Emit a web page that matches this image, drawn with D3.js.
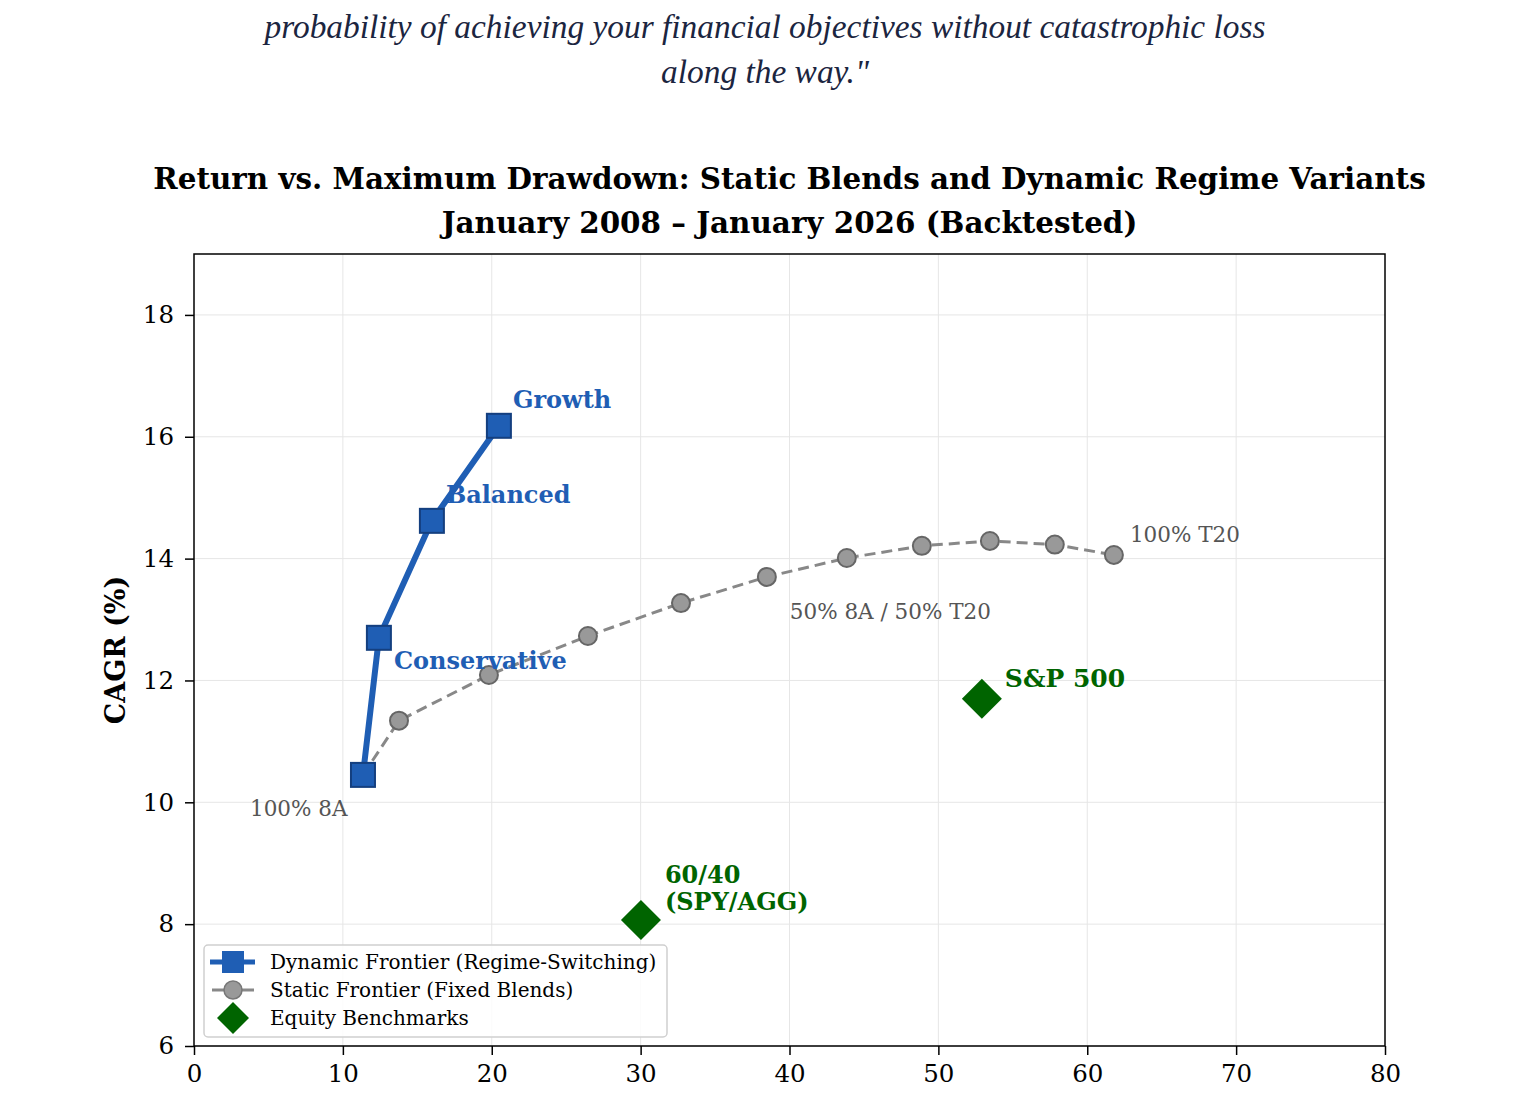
<!DOCTYPE html>
<html>
<head>
<meta charset="utf-8">
<script src="https://cdn.jsdelivr.net/npm/d3@7"></script>
<style>
  body { margin: 0; background: #fff; }
  svg { display: block; }
</style>
</head>
<body>
<svg id="chart" width="1530" height="1100"></svg>
<script>
// quote lines above the chart (first one is cut by the top edge)
const quoteLines = [
  '"The goal of portfolio design is not simply maximizing the',
  'probability of achieving your financial objectives without catastrophic loss',
  'along the way."'
]

// dynamic frontier: max drawdown (%), CAGR (%)
const dynNames = ['', 'Conservative', 'Balanced', 'Growth']
const dynDD = [11.35, 12.42, 15.98, 20.48]
const dynCAGR = [10.45, 12.70, 14.62, 16.18]

// static blends 100% 8A -> 100% T20 in 10% steps
const staticDD = [11.35, 13.77, 19.81, 26.46, 32.71, 38.48, 43.85, 48.89, 53.46, 57.82, 61.79]
const staticCAGR = [10.45, 11.34, 12.09, 12.73, 13.27, 13.70, 14.01, 14.21, 14.29, 14.23, 14.06]

const benchNames = ['S&P 500', '60/40|(SPY/AGG)']
const benchDD = [52.92, 30.02]
const benchCAGR = [11.70, 8.07]

const xTicks = [0, 10, 20, 30, 40, 50, 60, 70, 80]
const yTicks = [6, 8, 10, 12, 14, 16, 18]

const titleLines = [
  'Return vs. Maximum Drawdown: Static Blends and Dynamic Regime Variants',
  'January 2008 \u2013 January 2026 (Backtested)'
]
const legendLabels = ['Dynamic Frontier (Regime-Switching)', 'Static Frontier (Fixed Blends)', 'Equity Benchmarks']

const BLUE = '#1f5eb4', BLUE_EDGE = '#143f7f', GREEN = '#006400'
const SERIF = 'DejaVu Serif, serif'

const svg = d3.select('#chart')
const m = { left: 194, right: 1385, top: 254, bottom: 1046 }

const x = d3.scaleLinear().domain([0, 80]).range([m.left, m.right])
const y = d3.scaleLinear().domain([6, 19]).range([m.bottom, m.top])

// quote
svg.append('g').selectAll('text').data(quoteLines).join('text')
  .attr('x', 765).attr('y', (d, i) => -7 + i * 45)
  .attr('text-anchor', 'middle')
  .style('font-family', 'Liberation Serif, serif')
  .style('font-style', 'italic')
  .style('font-size', '33.4px')
  .attr('fill', '#1b2540')
  .text(d => d)

// title
svg.append('g').selectAll('text').data(titleLines).join('text')
  .attr('x', (m.left + m.right) / 2).attr('y', (d, i) => 189 + i * 44)
  .attr('text-anchor', 'middle')
  .style('font-family', SERIF).style('font-weight', 'bold').style('font-size', '29.4px')
  .text(d => d)

// grid
const grid = svg.append('g').attr('stroke', '#e6e6e6').attr('stroke-width', 1)
grid.selectAll('.gx').data(xTicks.slice(1, -1)).join('line')
  .attr('x1', d => x(d)).attr('x2', d => x(d)).attr('y1', m.top).attr('y2', m.bottom)
grid.selectAll('.gy').data(yTicks).join('line')
  .attr('y1', d => y(d)).attr('y2', d => y(d)).attr('x1', m.left).attr('x2', m.right)

// axes
const xAxis = svg.append('g').attr('transform', `translate(0,${m.bottom})`)
  .call(d3.axisBottom(x).tickValues(xTicks).tickSize(9).tickPadding(10))
const yAxis = svg.append('g').attr('transform', `translate(${m.left},0)`)
  .call(d3.axisLeft(y).tickValues(yTicks).tickSize(9).tickPadding(11))
;[xAxis, yAxis].forEach(a => {
  a.select('.domain').remove()
  a.selectAll('line').attr('stroke', '#000').attr('stroke-width', 1.5)
  a.selectAll('text').style('font-family', SERIF).style('font-size', '24.5px').attr('fill', '#000')
})

svg.append('rect')
  .attr('x', m.left).attr('y', m.top)
  .attr('width', m.right - m.left).attr('height', m.bottom - m.top)
  .attr('fill', 'none').attr('stroke', '#000').attr('stroke-width', 1.5)

svg.append('text')
  .attr('transform', `translate(125,${(m.top + m.bottom) / 2}) rotate(-90)`)
  .attr('text-anchor', 'middle')
  .style('font-family', SERIF).style('font-weight', 'bold').style('font-size', '27px')
  .text('CAGR (%)')

// static frontier
const staticPts = staticDD.map((d, i) => [d, staticCAGR[i]])
svg.append('path').datum(staticPts)
  .attr('d', d3.line().x(d => x(d[0])).y(d => y(d[1])))
  .attr('fill', 'none').attr('stroke', '#888').attr('stroke-width', 3)
  .attr('stroke-dasharray', '11,6')
svg.append('g').selectAll('circle').data(staticPts).join('circle')
  .attr('cx', d => x(d[0])).attr('cy', d => y(d[1])).attr('r', 9)
  .attr('fill', '#999').attr('stroke', '#666').attr('stroke-width', 2)

// dynamic frontier
const dynPts = dynDD.map((d, i) => [d, dynCAGR[i]])
svg.append('path').datum(dynPts)
  .attr('d', d3.line().x(d => x(d[0])).y(d => y(d[1])))
  .attr('fill', 'none').attr('stroke', BLUE).attr('stroke-width', 6)
svg.append('g').selectAll('rect').data(dynPts).join('rect')
  .attr('x', d => x(d[0]) - 12).attr('y', d => y(d[1]) - 12)
  .attr('width', 24).attr('height', 24)
  .attr('fill', BLUE).attr('stroke', BLUE_EDGE).attr('stroke-width', 2)

// benchmarks
const diamond = s => `M0,${-s}L${s},0L0,${s}L${-s},0Z`
svg.append('g').selectAll('path').data(benchDD).join('path')
  .attr('transform', (d, i) => `translate(${x(d)},${y(benchCAGR[i])})`)
  .attr('d', diamond(20)).attr('fill', GREEN)

// labels
const dynOffsets = [null, [15, 31], [14, -18], [14, -18]]
const dynLabelIdx = [1, 2, 3]
svg.append('g').selectAll('text').data(dynLabelIdx).join('text')
  .attr('x', i => x(dynDD[i]) + dynOffsets[i][0])
  .attr('y', i => y(dynCAGR[i]) + dynOffsets[i][1])
  .style('font-family', SERIF).style('font-weight', 'bold').style('font-size', '24px')
  .attr('fill', BLUE).text(i => dynNames[i])

const benchOffsets = [[23, -12], [24, -37]]
const benchSizes = [25, 24]
benchNames.forEach((name, i) => {
  const t = svg.append('text')
    .attr('x', x(benchDD[i]) + benchOffsets[i][0])
    .attr('y', y(benchCAGR[i]) + benchOffsets[i][1])
    .style('font-family', SERIF).style('font-weight', 'bold').style('font-size', benchSizes[i] + 'px')
    .attr('fill', GREEN)
  name.split('|').forEach((line, j) => {
    t.append('tspan').attr('x', x(benchDD[i]) + benchOffsets[i][0]).attr('dy', j ? 27 : 0).text(line)
  })
})

const blendNotes = [
  { idx: 0, text: '100% 8A', dx: -113, dy: 41 },
  { idx: 6, text: '50% 8A / 50% T20', dx: -57, dy: 61 },
  { idx: 10, text: '100% T20', dx: 16, dy: -13 }
]
svg.append('g').selectAll('text').data(blendNotes).join('text')
  .attr('x', d => x(staticDD[d.idx]) + d.dx)
  .attr('y', d => y(staticCAGR[d.idx]) + d.dy)
  .style('font-family', SERIF).style('font-size', '21.5px')
  .attr('fill', '#555').text(d => d.text)

// legend
const lg = svg.append('g').attr('transform', 'translate(204,945)')
lg.append('rect').attr('width', 463).attr('height', 92).attr('rx', 4)
  .attr('fill', '#fff').attr('fill-opacity', 0.85).attr('stroke', '#cfcfcf').attr('stroke-width', 1.5)
const rows = lg.selectAll('g').data(legendLabels).join('g')
  .attr('transform', (d, i) => `translate(0,${17 + i * 28})`)
rows.append('text').attr('x', 66).attr('y', 7)
  .style('font-family', SERIF).style('font-size', '20px').text(d => d)
const r0 = rows.filter((d, i) => i === 0)
r0.append('line').attr('x1', 6).attr('x2', 51).attr('stroke', BLUE).attr('stroke-width', 5)
r0.append('rect').attr('x', 18).attr('y', -11).attr('width', 22).attr('height', 22).attr('fill', BLUE)
const r1 = rows.filter((d, i) => i === 1)
r1.append('line').attr('x1', 8).attr('x2', 50).attr('stroke', '#888').attr('stroke-width', 3)
r1.append('circle').attr('cx', 29).attr('r', 9).attr('fill', '#999').attr('stroke', '#777').attr('stroke-width', 1.5)
const r2 = rows.filter((d, i) => i === 2)
r2.append('path').attr('transform', 'translate(29,0)').attr('d', diamond(16)).attr('fill', GREEN)
</script>
</body>
</html>
